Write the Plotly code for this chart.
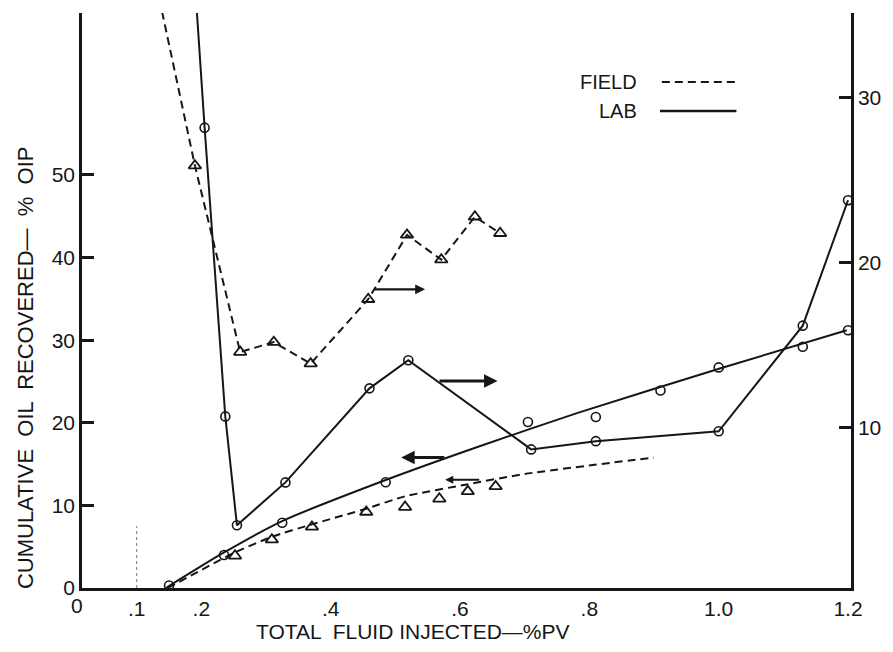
import plotly.graph_objects as go

# ---- data -------------------------------------------------------------
# LAB run, right-hand scale (solid line, open circles)
lab_r_x = [0.19, 0.205, 0.237, 0.255, 0.33, 0.46, 0.52, 0.71, 0.81, 1.0, 1.13, 1.2]
lab_r_y = [37.0, 28.2, 10.7, 4.1, 6.7, 12.4, 14.1, 8.7, 9.2, 9.8, 16.2, 23.8]

# FIELD, right-hand scale (dashed line, open triangles)
fld_r_x = [0.135, 0.19, 0.26, 0.312, 0.369, 0.458, 0.518, 0.571, 0.623, 0.662]
fld_r_y = [36.0, 25.9, 14.6, 15.2, 13.9, 17.8, 21.7, 20.2, 22.8, 21.8]

# LAB cumulative oil recovered, left-hand scale: measured points and drawn curve
lab_l_x = [0.15, 0.235, 0.325, 0.485, 0.705, 0.81, 0.91, 1.0, 1.13, 1.2]
lab_l_y = [0.3, 4.0, 7.9, 12.8, 20.1, 20.7, 23.9, 26.7, 29.2, 31.2]
lab_curve_x = [0.145, 0.235, 0.325, 0.486, 0.628, 0.782, 1.003, 1.198]
lab_curve_y = [0.0, 4.3, 8.1, 13.1, 17.1, 21.2, 26.6, 31.2]

# FIELD cumulative oil recovered, left-hand scale: measured points and drawn curve
fld_l_x = [0.16, 0.252, 0.309, 0.371, 0.455, 0.515, 0.568, 0.612, 0.655]
fld_l_y = [-0.4, 3.9, 5.85, 7.4, 9.2, 9.8, 10.8, 11.7, 12.3]
fld_curve_x = [0.148, 0.252, 0.309, 0.371, 0.455, 0.515, 0.608, 0.7, 0.9]
fld_curve_y = [0.0, 4.3, 6.2, 7.7, 9.6, 11.1, 12.5, 13.8, 15.8]

x_tickvals = [0.1, 0.2, 0.4, 0.6, 0.8, 1.0, 1.2]
x_ticktext = [".1", ".2", ".4", ".6", ".8", "1.0", "1.2"]
y_tickvals = [0, 10, 20, 30, 40, 50]
y2_tickvals = [10, 20, 30]

INK = "#161616"
FONT = "Liberation Sans, Arial, sans-serif"
DASH = "8px,5px"

fig = go.Figure()

# right-hand scale series
fig.add_trace(go.Scatter(
    x=lab_r_x, y=lab_r_y, yaxis="y2", mode="lines+markers",
    line=dict(color=INK, width=2),
    marker=dict(symbol="circle-open", size=9, color=INK, line=dict(width=1.6)),
))
fig.add_trace(go.Scatter(
    x=fld_r_x, y=fld_r_y, yaxis="y2", mode="lines+markers",
    line=dict(color=INK, width=2, dash=DASH),
    marker=dict(symbol="triangle-up-open", size=11, color=INK, line=dict(width=1.8)),
))

# left-hand scale series
fig.add_trace(go.Scatter(
    x=lab_curve_x, y=lab_curve_y, mode="lines",
    line=dict(color=INK, width=2, shape="spline", smoothing=0.6),
))
fig.add_trace(go.Scatter(
    x=lab_l_x, y=lab_l_y, mode="markers",
    marker=dict(symbol="circle-open", size=9, color=INK, line=dict(width=1.6)),
))
fig.add_trace(go.Scatter(
    x=fld_curve_x, y=fld_curve_y, mode="lines",
    line=dict(color=INK, width=2, dash=DASH, shape="spline", smoothing=0.6),
))
fig.add_trace(go.Scatter(
    x=fld_l_x, y=fld_l_y, mode="markers", cliponaxis=False,
    marker=dict(symbol="triangle-up-open", size=11, color=INK, line=dict(width=1.8)),
))

# arrows showing which scale each curve is read against
arrows = [
    dict(x=0.546, ax=0.466, y=18.4, yref="y2", ayref="y2", w=2.2),
    dict(x=0.658, ax=0.566, y=12.85, yref="y2", ayref="y2", w=3),
    dict(x=0.509, ax=0.578, y=15.8, yref="y", ayref="y", w=3),
    dict(x=0.577, ax=0.632, y=13.1, yref="y", ayref="y", w=1.8),
]
annotations = []
for a in arrows:
    annotations.append(dict(
        x=a["x"], y=a["y"], xref="x", yref=a["yref"],
        ax=a["ax"], ay=a["y"], axref="x", ayref=a["ayref"],
        showarrow=True, arrowhead=2, arrowsize=0.9, arrowwidth=a["w"],
        arrowcolor=INK, text="",
    ))

# legend text
annotations += [
    dict(x=0.7245, y=0.88, xref="paper", yref="paper", text="FIELD",
         showarrow=False, xanchor="right", yanchor="middle",
         font=dict(family=FONT, size=20, color=INK)),
    dict(x=0.7245, y=0.8296, xref="paper", yref="paper", text="LAB",
         showarrow=False, xanchor="right", yanchor="middle",
         font=dict(family=FONT, size=20, color=INK)),
    # origin label of the x axis
    dict(x=0, y=0, xref="paper", yref="paper", text="0", showarrow=False,
         xanchor="center", yanchor="top", xshift=-5, yshift=-4,
         font=dict(family=FONT, size=21, color=INK)),
    # axis titles
    dict(x=0.431, y=-0.0765, xref="paper", yref="paper",
         text="TOTAL  FLUID INJECTED\u2014%PV", showarrow=False,
         xanchor="center", yanchor="middle",
         font=dict(family=FONT, size=21, color=INK)),
    dict(x=-0.0737, y=0.383, xref="paper", yref="paper",
         text="CUMULATIVE  OIL  RECOVERED\u2014  %  OIP", showarrow=False,
         textangle=-90, xanchor="center", yanchor="middle",
         font=dict(family=FONT, size=22, color=INK)),
]

shapes = [
    # legend line samples
    dict(type="line", xref="paper", yref="paper", x0=0.754, x1=0.851, y0=0.88, y1=0.88,
         line=dict(color=INK, width=2, dash=DASH)),
    dict(type="line", xref="paper", yref="paper", x0=0.7516, x1=0.851, y0=0.8296, y1=0.8296,
         line=dict(color=INK, width=2.5)),
    # faint marker line at 0.1 PV
    dict(type="line", xref="x", yref="y", x0=0.1, x1=0.1, y0=0, y1=7.5,
         line=dict(color="#777", width=1, dash="dot")),
]

axis_font = dict(family=FONT, size=21, color=INK)

fig.update_layout(
    width=893, height=652,
    margin=dict(l=82, r=38, t=13, b=64),
    paper_bgcolor="white", plot_bgcolor="white",
    showlegend=False,
    font=dict(family=FONT, color=INK),
    xaxis=dict(
        range=[0.0154, 1.2046], showgrid=False, zeroline=False,
        showline=True, linecolor=INK, linewidth=2.5,
        ticks="", tickvals=x_tickvals, ticktext=x_ticktext, tickfont=axis_font,
    ),
    yaxis=dict(
        range=[0, 69.6], showgrid=False, zeroline=False,
        showline=True, linecolor=INK, linewidth=2.5,
        ticks="inside", ticklen=12, tickwidth=2.5, tickcolor=INK,
        tickvals=y_tickvals, tickfont=axis_font,
    ),
    yaxis2=dict(
        range=[0.3, 35.15], overlaying="y", side="right",
        showgrid=False, zeroline=False,
        showline=True, linecolor=INK, linewidth=2.5,
        ticks="inside", ticklen=12, tickwidth=2.5, tickcolor=INK,
        tickvals=y2_tickvals, tickfont=axis_font,
    ),
    annotations=annotations,
    shapes=shapes,
)

fig.write_html("out.html")
